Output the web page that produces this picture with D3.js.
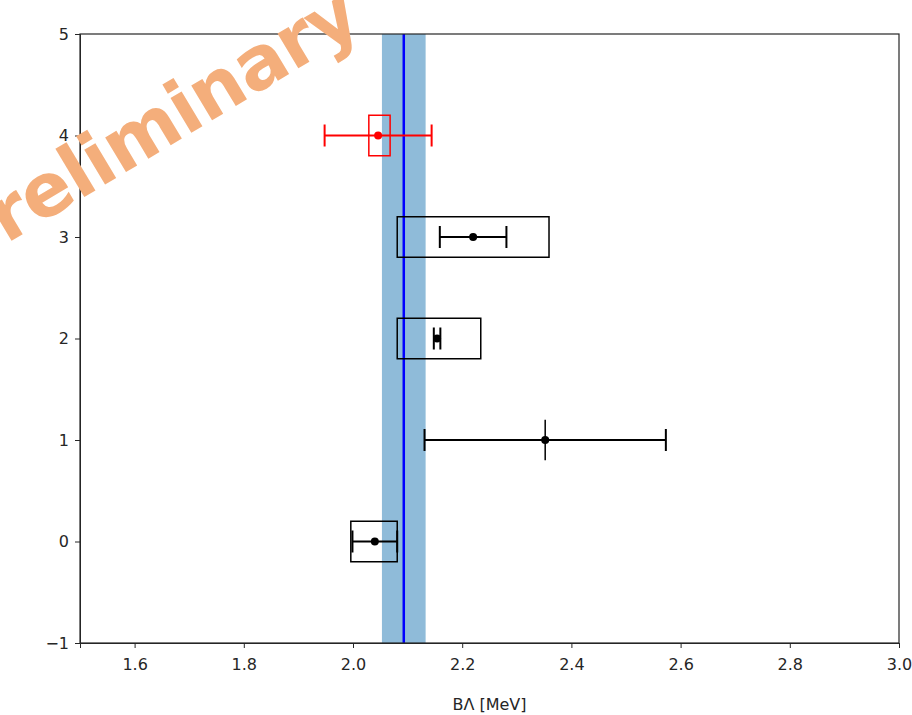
<!DOCTYPE html>
<html>
<head>
<meta charset="utf-8">
<script src="https://cdn.jsdelivr.net/npm/d3@7"></script>
<style>
  body { margin: 0; background: #fff; }
  .axis text { font-family: "DejaVu Sans", sans-serif; font-size: 16px; fill: #262626; }
  .axis path, .axis line { stroke: #262626; }
</style>
</head>
<body>
<div id="chart"></div>
<script>
// one row per measurement, index = y position
const rows = [0, 1, 2, 3, 4]
const centers = [2.04, 2.352, 2.154, 2.22, 2.046]
const statErr = [0.041, 0.221, 0.006, 0.061, 0.098]
const sysLo = [1.996, 2.352, 2.081, 2.081, 2.029]
const sysHi = [2.081, 2.352, 2.234, 2.359, 2.068]
const colors = ["black", "black", "black", "black", "red"]

// average band
const bandLo = 2.053
const bandHi = 2.133
const bandMean = 2.093

const xTicks = [1.6, 1.8, 2.0, 2.2, 2.4, 2.6, 2.8, 3.0]
const yTicks = [-1, 0, 1, 2, 3, 4, 5]

const W = 912, H = 715
const margin = { top: 34, right: 13, bottom: 72, left: 80 }
const width = W - margin.left - margin.right
const height = H - margin.top - margin.bottom

const svg = d3.select("#chart").append("svg")
  .attr("width", W).attr("height", H)

const g = svg.append("g").attr("transform", `translate(${margin.left},${margin.top})`)

const x = d3.scaleLinear().domain([1.5, 3.0]).range([0, width])
const y = d3.scaleLinear().domain([-1, 5]).range([height, 0])
const boxHalf = 0.2
const cap = 11

g.append("defs").append("clipPath").attr("id", "clip")
  .append("rect").attr("width", width).attr("height", height)

const plot = g.append("g").attr("clip-path", "url(#clip)")

plot.append("rect")
  .attr("x", x(bandLo)).attr("width", x(bandHi) - x(bandLo))
  .attr("y", 0).attr("height", height)
  .attr("fill", "#1f77b4").attr("opacity", 0.5)

plot.append("line")
  .attr("x1", x(bandMean)).attr("x2", x(bandMean))
  .attr("y1", 0).attr("y2", height)
  .attr("stroke", "#0000ff").attr("stroke-width", 2.5)

const data = rows.map((r, i) => ({
  r, c: centers[i], e: statErr[i], lo: sysLo[i], hi: sysHi[i], col: colors[i]
}))

const pts = plot.selectAll(".pt").data(data).join("g").attr("class", "pt")

// systematic boxes (path so a zero-width box still shows as a line)
pts.append("path")
  .attr("d", d => {
    const x0 = x(d.lo), x1 = x(d.hi), y0 = y(d.r + boxHalf), y1 = y(d.r - boxHalf)
    return `M${x0},${y0}H${x1}V${y1}H${x0}Z`
  })
  .attr("fill", "none").attr("stroke", d => d.col).attr("stroke-width", 1.5)

// statistical error bars
pts.append("line")
  .attr("x1", d => x(d.c - d.e)).attr("x2", d => x(d.c + d.e))
  .attr("y1", d => y(d.r)).attr("y2", d => y(d.r))
  .attr("stroke", d => d.col).attr("stroke-width", 2)
pts.each(function (d) {
  const s = d3.select(this)
  ;[d.c - d.e, d.c + d.e].forEach(v => {
    s.append("line")
      .attr("x1", x(v)).attr("x2", x(v))
      .attr("y1", y(d.r) - cap).attr("y2", y(d.r) + cap)
      .attr("stroke", d.col).attr("stroke-width", 2)
  })
})
pts.append("circle")
  .attr("cx", d => x(d.c)).attr("cy", d => y(d.r)).attr("r", 4)
  .attr("fill", d => d.col)

// axes
g.append("g").attr("class", "axis")
  .attr("transform", `translate(0,${height})`)
  .call(d3.axisBottom(x).tickValues(xTicks).tickFormat(d3.format(".1f")).tickSizeOuter(0).tickSize(5).tickPadding(11))
g.append("g").attr("class", "axis")
  .call(d3.axisLeft(y).tickValues(yTicks).tickFormat(d => d < 0 ? "\u2212" + Math.abs(d) : d).tickSizeOuter(0).tickSize(5).tickPadding(6))

g.append("rect").attr("width", width).attr("height", height)
  .attr("fill", "none").attr("stroke", "#262626").attr("stroke-width", 1.2)

svg.append("text")
  .attr("x", margin.left + width / 2).attr("y", 710)
  .attr("text-anchor", "middle")
  .style("font-family", "DejaVu Sans, sans-serif").style("font-size", "16px").style("fill", "#262626")
  .text("B\u039b [MeV]")

// watermark
svg.append("text")
  .attr("transform", "translate(364,29) rotate(-31)")
  .attr("text-anchor", "end")
  .style("font-family", "DejaVu Sans, sans-serif").style("font-weight", "bold")
  .style("font-size", "74px").style("letter-spacing", "-1px").style("fill", "#f4ae7b")
  .text("Preliminary")
</script>
</body>
</html>
